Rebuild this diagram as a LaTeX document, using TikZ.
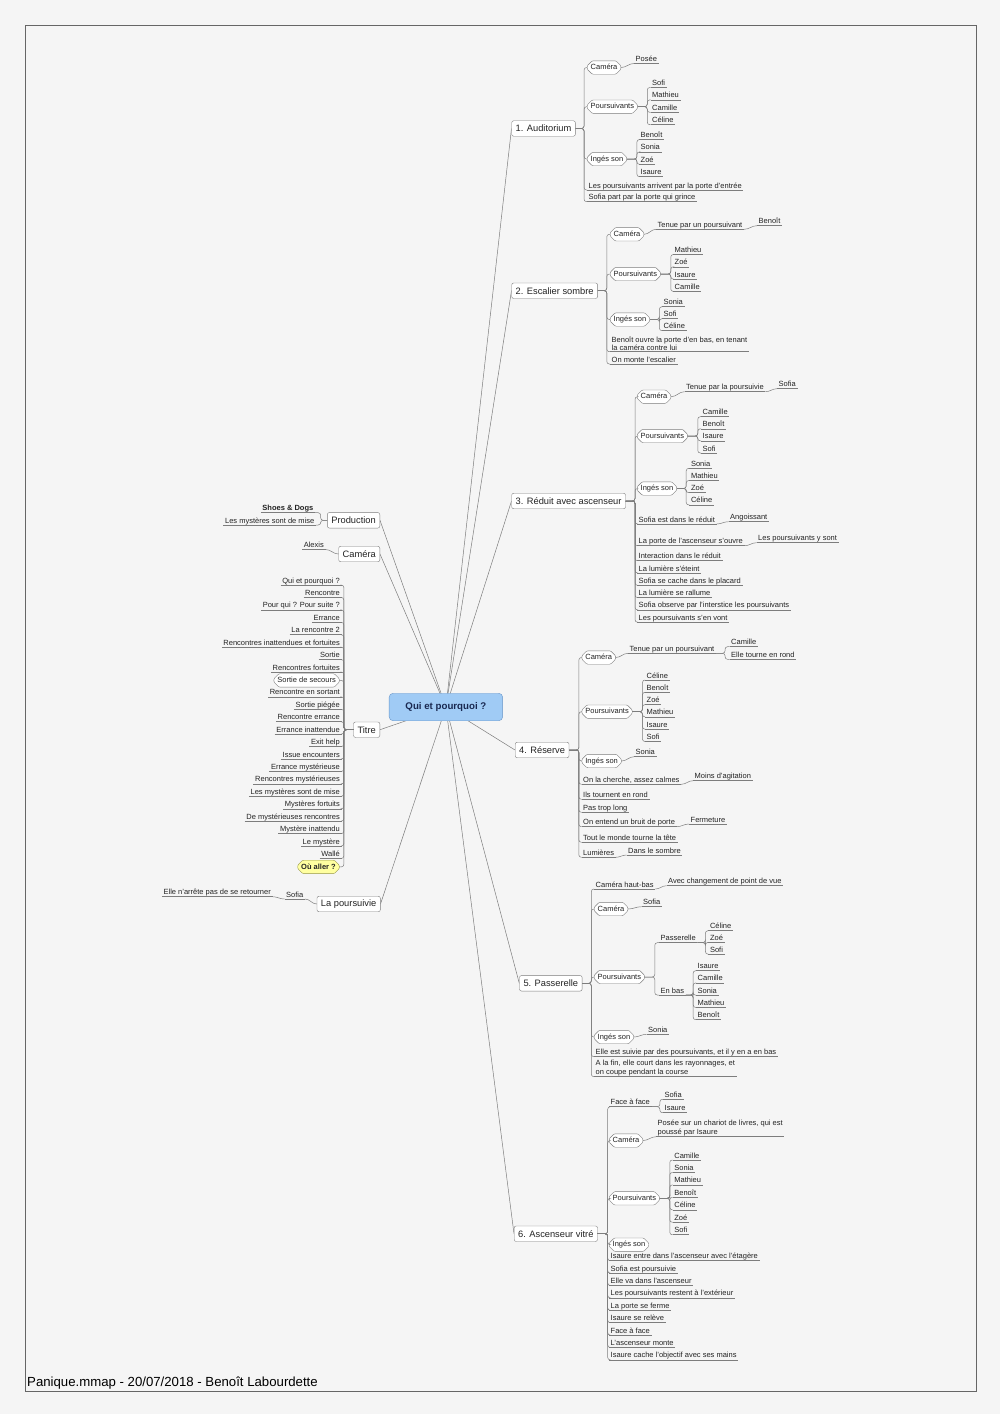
\documentclass[tikz,border=0pt]{standalone}
\usepackage{fontspec}
\setmainfont{Liberation Sans}
\usetikzlibrary{shapes.misc,backgrounds}
\definecolor{bg}{RGB}{245,245,245}
\definecolor{ink}{RGB}{35,35,35}
\definecolor{linegray}{RGB}{125,125,125}
\definecolor{boxgray}{RGB}{125,125,125}
\definecolor{rootfill}{RGB}{160,203,245}
\definecolor{rootdraw}{RGB}{105,150,200}
\definecolor{rootink}{RGB}{25,40,80}
\definecolor{noteyellow}{RGB}{255,255,160}
\definecolor{notedraw}{RGB}{150,150,70}
\newcommand\leaffont{\fontsize{7.5}{8.6}\selectfont}
\newcommand\topicfont{\fontsize{9.3}{11}\selectfont}
\newcommand\rootfont{\fontsize{9.7}{11}\selectfont\bfseries}
\newcommand\footfont{\fontsize{13.2}{15}\selectfont}
\tikzset{
  conn/.style={draw=linegray, line width=0.5pt, rounded corners=2.5pt},
  rootline/.style={draw=linegray, line width=0.5pt},
  uline/.style={draw=linegray, line width=0.5pt},
  leafbase/.style={font=\leaffont, text=ink, inner xsep=1.5pt, inner ysep=0.5pt, anchor=south west,
    append after command={\pgfextra{\let\leafnode\tikzlastnode} (\leafnode.south west) edge[uline] (\leafnode.south east)}},
  leaf/.style={leafbase, text height=5.5pt, text depth=1.3pt},
  leafr/.style={leaf, anchor=south east},
  leaftwo/.style={leafbase, align=left},
  topicbox/.style={draw=boxgray, fill=white, rounded corners=2pt, font=\topicfont, text=ink,
    inner xsep=4pt, inner ysep=0pt, minimum height=15.5pt, anchor=west},
  subbox/.style={chamfered rectangle, chamfered rectangle sep=2.5pt, rounded corners=1pt, draw=boxgray, fill=white,
    font=\leaffont, text=ink, inner xsep=1pt, inner ysep=0.8pt, text height=5.5pt, text depth=1.3pt, anchor=west},
  notebox/.style={subbox, fill=noteyellow, draw=notedraw, font=\leaffont\bfseries, anchor=east},
  rootbox/.style={draw=rootdraw, fill=rootfill, rounded corners=4pt, font=\rootfont, text=rootink,
    minimum width=113.5pt, minimum height=27.5pt}
}
\begin{document}
\begin{tikzpicture}[x=1pt,y=-1pt]
\useasboundingbox (0,0) rectangle (1000,1414);

% centre
\node[rootbox] (root) at (445.9,707) {Qui et pourquoi ?};

% 1. Auditorium
\node[topicbox] (aud) at (511.5,128.5) {1. Auditorium};
\node[subbox] (audcam) at (587,67.5) {Caméra};
\node[leaf] (audpos) at (634,63.5) {Posée};
\node[subbox] (audpou) at (587,106.7) {Poursuivants};
\foreach \nm [count=\i] in {Sofi,Mathieu,Camille,Céline}
  \node[leaf] (audpou\i) at (650.5,{87.5+12.4*(\i-1)}) {\nm};
\node[subbox] (auding) at (587,159) {Ingés son};
\foreach \nm [count=\i] in {Benoît,Sonia,Zoé,Isaure}
  \node[leaf] (auding\i) at (639,{139.5+12.4*(\i-1)}) {\nm};
\node[leaf] (audarr) at (587,190) {Les poursuivants arrivent par la porte d'entrée};
\node[leaf] (audpar) at (587,201.7) {Sofia part par la porte qui grince};
\foreach \n in {audcam.west,audpou.west,auding.west,audarr.south west,audpar.south west}
  \draw[conn] (aud.east) -- ++(8.5,0) |- (\n);
\draw[conn] (audcam.east) to[out=0,in=180] (audpos.south west);
\foreach \i in {1,...,4} \draw[conn] (audpou.east) -- ++(9.5,0) |- (audpou\i.south west);
\foreach \i in {1,...,4} \draw[conn] (auding.east) -- ++(10,0) |- (auding\i.south west);

% 2. Escalier sombre
\node[topicbox] (esc) at (511.5,290.7) {2. Escalier sombre};
\node[subbox] (esccam) at (610,234.3) {Caméra};
\node[leaf] (esccamt) at (656,229.3) {Tenue par un poursuivant};
\node[leaf] (esccamb) at (757,225.7) {Benoît};
\node[subbox] (escpou) at (610,274) {Poursuivants};
\foreach \nm [count=\i] in {Mathieu,Zoé,Isaure,Camille}
  \node[leaf] (escpou\i) at (673,{254.5+12.3*(\i-1)}) {\nm};
\node[subbox] (escing) at (610,319.5) {Ingés son};
\foreach \nm [count=\i] in {Sonia,Sofi,Céline}
  \node[leaf] (escing\i) at (662,{306.7+12*(\i-1)}) {\nm};
\node[leaftwo] (escben) at (610,351.7) {Benoît ouvre la porte d'en bas, en tenant\\la caméra contre lui};
\node[leaf] (escmon) at (610,364) {On monte l'escalier};
\foreach \n in {esccam.west,escpou.west,escing.west,escben.south west,escmon.south west}
  \draw[conn] (esc.east) -- ++(9,0) |- (\n);
\draw[conn] (esccam.east) to[out=0,in=180] (esccamt.south west);
\draw[conn] (esccamt.south east) to[out=0,in=180] (esccamb.south west);
\foreach \i in {1,...,4} \draw[conn] (escpou.east) -- ++(10,0) |- (escpou\i.south west);
\foreach \i in {1,...,3} \draw[conn] (escing.east) -- ++(9.5,0) |- (escing\i.south west);

% 3. Réduit avec ascenseur
\node[topicbox] (red) at (511.5,501) {3. Réduit avec ascenseur};
\node[subbox] (redcam) at (637,396.7) {Caméra};
\node[leaf] (redcamt) at (684.5,391.7) {Tenue par la poursuivie};
\node[leaf] (redcams) at (777,388.7) {Sofia};
\node[subbox] (redpou) at (637,436) {Poursuivants};
\foreach \nm [count=\i] in {Camille,Benoît,Isaure,Sofi}
  \node[leaf] (redpou\i) at (701,{416.7+12.1*(\i-1)}) {\nm};
\node[subbox] (reding) at (637,488.5) {Ingés son};
\foreach \nm [count=\i] in {Sonia,Mathieu,Zoé,Céline}
  \node[leaf] (reding\i) at (689.3,{468.3+12.2*(\i-1)}) {\nm};
\node[leaf] (redsof) at (637,524) {Sofia est dans le réduit};
\node[leaf] (redang) at (728.5,521.7) {Angoissant};
\node[leaf] (redpor) at (637,545.7) {La porte de l'ascenseur s'ouvre};
\node[leaf] (redpys) at (756.5,542.7) {Les poursuivants y sont};
\foreach \tx [count=\i] in {Interaction dans le réduit,La lumière s'éteint,Sofia se cache dans le placard,La lumière se rallume,Sofia observe par l'interstice les poursuivants,Les poursuivants s'en vont}
  \node[leaf] (redev\i) at (637,{560.7+12.3*(\i-1)}) {\tx};
\foreach \n in {redcam.west,redpou.west,reding.west,redsof.south west,redpor.south west,redev1.south west,redev2.south west,redev3.south west,redev4.south west,redev5.south west,redev6.south west}
  \draw[conn] (red.east) -- ++(9.3,0) |- (\n);
\draw[conn] (redcam.east) to[out=0,in=180] (redcamt.south west);
\draw[conn] (redcamt.south east) to[out=0,in=180] (redcams.south west);
\foreach \i in {1,...,4} \draw[conn] (redpou.east) -- ++(10,0) |- (redpou\i.south west);
\foreach \i in {1,...,4} \draw[conn] (reding.east) -- ++(9.3,0) |- (reding\i.south west);
\draw[conn] (redsof.south east) to[out=0,in=180] (redang.south west);
\draw[conn] (redpor.south east) to[out=0,in=180] (redpys.south west);

% 4. Réserve
\node[topicbox] (res) at (515,750) {4. Réserve};
\node[subbox] (rescam) at (581.7,657.5) {Caméra};
\node[leaf] (rescamt) at (628,653.3) {Tenue par un poursuivant};
\node[leaf] (rescam1) at (729.5,646.7) {Camille};
\node[leaf] (rescam2) at (729.5,659.3) {Elle tourne en rond};
\node[subbox] (respou) at (581.7,711.7) {Poursuivants};
\foreach \nm [count=\i] in {Céline,Benoît,Zoé,Mathieu,Isaure,Sofi}
  \node[leaf] (respou\i) at (645,{680+12.3*(\i-1)}) {\nm};
\node[subbox] (resing) at (581.7,761) {Ingés son};
\node[leaf] (resson) at (634,756.7) {Sonia};
\node[leaf] (resche) at (581.5,784.3) {On la cherche, assez calmes};
\node[leaf] (resmoi) at (693,780.7) {Moins d'agitation};
\node[leaf] (restou) at (581.5,799.3) {Ils tournent en rond};
\node[leaf] (respas) at (581.5,812.3) {Pas trop long};
\node[leaf] (resbru) at (581.5,826.7) {On entend un bruit de porte};
\node[leaf] (resfer) at (689,824) {Fermeture};
\node[leaf] (restet) at (581.5,842.3) {Tout le monde tourne la tête};
\node[leaf] (reslum) at (581.5,857.3) {Lumières};
\node[leaf] (ressom) at (626.5,855) {Dans le sombre};
\foreach \n in {rescam.west,respou.west,resing.west,resche.south west,restou.south west,respas.south west,resbru.south west,restet.south west,reslum.south west}
  \draw[conn] (res.east) -- ++(9.6,0) |- (\n);
\draw[conn] (rescam.east) to[out=0,in=180] (rescamt.south west);
\foreach \i in {1,2} \draw[conn] (rescamt.south east) -- ++(9,0) |- (rescam\i.south west);
\foreach \i in {1,...,6} \draw[conn] (respou.east) -- ++(10,0) |- (respou\i.south west);
\draw[conn] (resing.east) to[out=0,in=180] (resson.south west);
\draw[conn] (resche.south east) to[out=0,in=180] (resmoi.south west);
\draw[conn] (resbru.south east) to[out=0,in=180] (resfer.south west);
\draw[conn] (reslum.south east) to[out=0,in=180] (ressom.south west);

% 5. Passerelle
\node[topicbox] (pas) at (519.3,983.3) {5. Passerelle};
\node[leaf] (pashb) at (594,889) {Caméra haut-bas};
\node[leaf] (paspdv) at (666.5,885.7) {Avec changement de point de vue};
\node[subbox] (pascam) at (594,909) {Caméra};
\node[leaf] (passof) at (641.5,906.7) {Sofia};
\node[subbox] (paspou) at (594,977) {Poursuivants};
\node[leaf] (paspas) at (659,942.7) {Passerelle};
\node[leaf] (pasbas) at (659,995) {En bas};
\foreach \nm [count=\i] in {Céline,Zoé,Sofi}
  \node[leaf] (paspas\i) at (708.3,{930.7+11.7*(\i-1)}) {\nm};
\foreach \nm [count=\i] in {Isaure,Camille,Sonia,Mathieu,Benoît}
  \node[leaf] (pasbas\i) at (696,{970.7+12.25*(\i-1)}) {\nm};
\node[subbox] (pasing) at (594,1037) {Ingés son};
\node[leaf] (passon) at (646.5,1034.3) {Sonia};
\node[leaf] (passui) at (594,1056.7) {Elle est suivie par des poursuivants, et il y en a en bas};
\node[leaftwo] (pasfin) at (594,1076.7) {A la fin, elle court dans les rayonnages, et\\on coupe pendant la course};
\foreach \n in {pashb.south west,pascam.west,paspou.west,pasing.west,passui.south west,pasfin.south west}
  \draw[conn] (pas.east) -- ++(9,0) |- (\n);
\draw[conn] (pashb.south east) to[out=0,in=180] (paspdv.south west);
\draw[conn] (pascam.east) to[out=0,in=180] (passof.south west);
\foreach \n in {paspas,pasbas} \draw[conn] (paspou.east) -- ++(10,0) |- (\n.south west);
\foreach \i in {1,...,3} \draw[conn] (paspas.south east) -- ++(8,0) |- (paspas\i.south west);
\foreach \i in {1,...,5} \draw[conn] (pasbas.south east) -- ++(7.4,0) |- (pasbas\i.south west);
\draw[conn] (pasing.east) to[out=0,in=180] (passon.south west);

% 6. Ascenseur vitré
\node[topicbox] (asc) at (514,1233.7) {6. Ascenseur vitré};
\node[leaf] (ascfac) at (609,1106.7) {Face à face};
\node[leaf] (ascfac1) at (663,1099.3) {Sofia};
\node[leaf] (ascfac2) at (663,1112.7) {Isaure};
\node[subbox] (asccam) at (609,1140.5) {Caméra};
\node[leaftwo] (asccha) at (656,1136.7) {Posée sur un chariot de livres, qui est\\poussé par Isaure};
\node[subbox] (ascpou) at (609,1198.3) {Poursuivants};
\foreach \nm [count=\i] in {Camille,Sonia,Mathieu,Benoît,Céline,Zoé,Sofi}
  \node[leaf] (ascpou\i) at (672.7,{1160+12.45*(\i-1)}) {\nm};
\node[subbox] (ascing) at (609,1244.7) {Ingés son};
\foreach \tx [count=\i] in {Isaure entre dans l'ascenseur avec l'étagère,Sofia est poursuivie,Elle va dans l'ascenseur,Les poursuivants restent à l'extérieur,La porte se ferme,Isaure se relève,Face à face,L'ascenseur monte,Isaure cache l'objectif avec ses mains}
  \node[leaf] (ascev\i) at (609,{1260.7+12.4*(\i-1)}) {\tx};
\foreach \n in {ascfac.south west,asccam.west,ascpou.west,ascing.west,ascev1.south west,ascev2.south west,ascev3.south west,ascev4.south west,ascev5.south west,ascev6.south west,ascev7.south west,ascev8.south west,ascev9.south west}
  \draw[conn] (asc.east) -- ++(10,0) |- (\n);
\foreach \i in {1,2} \draw[conn] (ascfac.south east) -- ++(8.3,0) |- (ascfac\i.south west);
\draw[conn] (asccam.east) to[out=0,in=180] (asccha.south west);
\foreach \i in {1,...,7} \draw[conn] (ascpou.east) -- ++(10,0) |- (ascpou\i.south west);

% left: Production
\node[topicbox,anchor=east] (pro) at (380,520.3) {Production};
\node[leafr,font=\leaffont\bfseries] (prosho) at (315,512.7) {Shoes \& Dogs};
\node[leafr] (promys) at (316,525) {Les mystères sont de mise};
\foreach \n in {prosho,promys} \draw[conn] (pro.west) -- ++(-6.5,0) |- (\n.south east);

% left: Caméra
\node[topicbox,anchor=east] (cam) at (380,554) {Caméra};
\node[leafr] (camale) at (325.5,549.5) {Alexis};
\draw[conn] (cam.west) to[out=180,in=0] (camale.south east);

% left: Titre
\node[topicbox,anchor=east] (tit) at (380,729.7) {Titre};
\foreach \i/\tx in {1/Qui et pourquoi ?,2/Rencontre,3/Pour qui ? Pour suite ?,4/Errance,5/La rencontre 2,6/Rencontres inattendues et fortuites,7/Sortie,8/Rencontres fortuites,10/Rencontre en sortant,11/Sortie piégée,12/Rencontre errance,13/Errance inattendue,14/Exit help,15/Issue encounters,16/Errance mystérieuse,17/Rencontres mystérieuses,18/Les mystères sont de mise,19/Mystères fortuits,20/De mystérieuses rencontres,21/Mystère inattendu,22/Le mystère,23/Wallé}
{
  \node[leafr] (tit\i) at (341.5,{585+12.43*(\i-1)}) {\tx};
  \draw[conn] (tit.west) -- ++(-9.5,0) |- (tit\i.south east);
}
\node[subbox,anchor=east] (tit9) at (339.5,680.4) {Sortie de secours};
\node[notebox] (tit24) at (339.5,866.9) {Où aller ?};
\foreach \n in {tit9,tit24} \draw[conn] (tit.west) -- ++(-9.5,0) |- (\n.east);

% left: La poursuivie
\node[topicbox,anchor=east] (pour) at (380.5,904) {La poursuivie};
\node[leafr] (poursof) at (305,899) {Sofia};
\node[leafr] (pourret) at (272.5,896.7) {Elle n'arrête pas de se retourner};
\draw[conn] (pour.west) to[out=180,in=0] (poursof.south east);
\draw[conn] (poursof.south west) to[out=180,in=0] (pourret.south east);

% footer
\node[anchor=base west, font=\footfont, text=black, inner sep=0pt] (foot) at (27,1386.5) {Panique.mmap - 20/07/2018 - Benoît Labourdette};

\begin{scope}[on background layer]
\fill[bg] (0,0) rectangle (1000,1414);
\draw[draw=black!60, line width=0.7pt] (25,25) rectangle (976,1391);
\foreach \n in {aud,esc,red,res,pas,asc} \draw[rootline] (root.center) -- (\n.west);
\foreach \n in {pro,cam,tit,pour} \draw[rootline] (root.center) -- (\n.east);
\end{scope}
\end{tikzpicture}
\end{document}
